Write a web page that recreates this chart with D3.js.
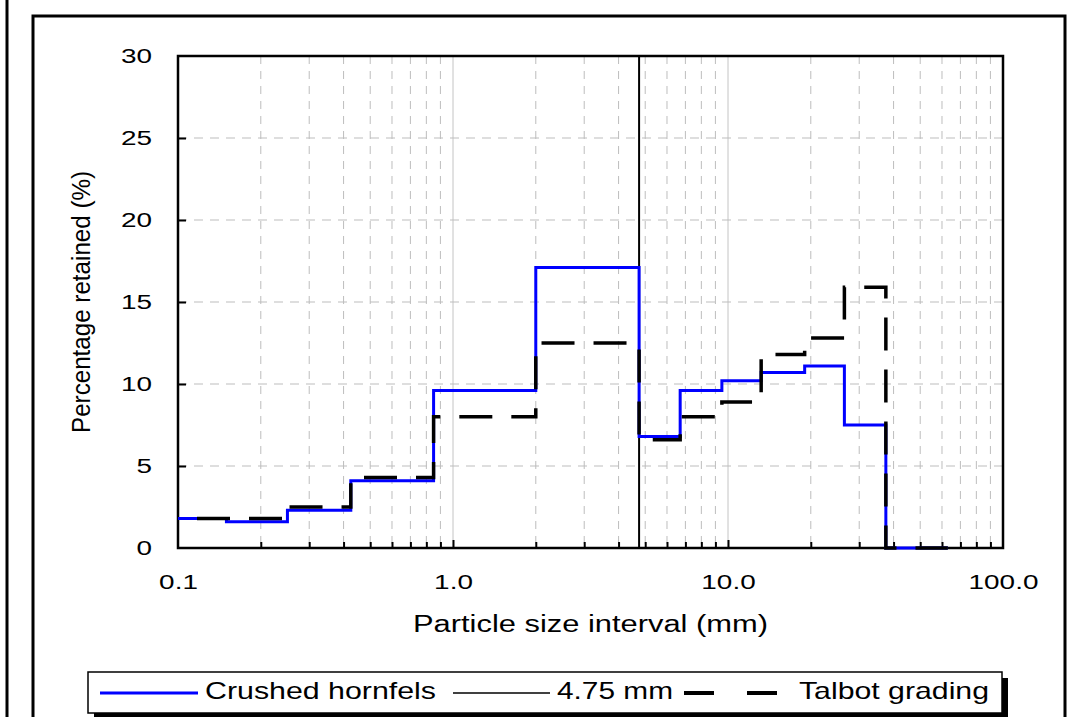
<!DOCTYPE html>
<html>
<head>
<meta charset="utf-8">
<script src="https://cdn.jsdelivr.net/npm/d3@7/dist/d3.min.js"></script>
<style>
	body { margin: 0; background: #fff; }
	text { font-family: "Liberation Sans", Arial, sans-serif; fill: #000; }
</style>
</head>
<body>
<div id="chart"></div>
<script>
// Sieve interval edges (mm) and % retained in each interval
const sizeEdges = [0.1, 0.15, 0.25, 0.425, 0.85, 2.0, 4.75, 6.7, 9.5, 13.2, 19, 26.5, 37.5, 63];
const hornfels  = [1.8, 1.6, 2.3, 4.1, 9.6, 17.1, 6.8, 9.6, 10.2, 10.7, 11.1, 7.5, 0];
const talbot    = [1.8, 1.8, 2.5, 4.3, 8.0, 12.5, 6.6, 8.0, 8.9, 11.8, 12.8, 15.9, 0];
const cutSize = 4.75;

const xDecades = [0.1, 1, 10, 100];
const xTickLabels = ["0.1", "1.0", "10.0", "100.0"];
const yTicks = [0, 5, 10, 15, 20, 25, 30];
const legendLabels = ["Crushed hornfels", "4.75 mm", "Talbot grading"];

// Dimensions
const W = 1091, H = 717;
const plot = {left: 178, right: 1003, top: 56, bottom: 548};
const labelStretch = 1.33;   // original picture is stretched sideways

const svg = d3.select("#chart").append("svg")
	.attr("width", W)
	.attr("height", H);

// Scales
const x = d3.scaleLog().domain([0.1, 100]).range([plot.left, plot.right]);
const y = d3.scaleLinear().domain([0, 30]).range([plot.bottom, plot.top]);

// minor log values 2..9 in each decade
const minorVals = [];
xDecades.slice(0, 3).forEach(d => d3.range(2, 10).forEach(k => minorVals.push(k * d)));

// Page frames
svg.append("line")
	.attr("x1", 7).attr("x2", 7).attr("y1", 0).attr("y2", H)
	.attr("stroke", "#000").attr("stroke-width", 3);
svg.append("path")
	.attr("d", "M33," + H + "V16H1065V" + H)
	.attr("fill", "none").attr("stroke", "#000").attr("stroke-width", 3);

// GRID
const grid = svg.append("g");
grid.selectAll(".vminor").data(minorVals).enter().append("line")
	.attr("x1", d => x(d)).attr("x2", d => x(d))
	.attr("y1", plot.top).attr("y2", plot.bottom)
	.attr("stroke", "#bdbdbd").attr("stroke-width", 1)
	.attr("stroke-dasharray", "8,7");
grid.selectAll(".vmajor").data([1, 10]).enter().append("line")
	.attr("x1", d => x(d)).attr("x2", d => x(d))
	.attr("y1", plot.top).attr("y2", plot.bottom)
	.attr("stroke", "#c4c4c4").attr("stroke-width", 1);
grid.selectAll(".hgrid").data(yTicks.slice(1, -1)).enter().append("line")
	.attr("x1", plot.left).attr("x2", plot.right)
	.attr("y1", d => y(d)).attr("y2", d => y(d))
	.attr("stroke", "#bdbdbd").attr("stroke-width", 1)
	.attr("stroke-dasharray", "9,7");

// TICKS (inside)
svg.append("g")
	.attr("transform", "translate(0," + plot.bottom + ")")
	.call(d3.axisBottom(x).tickValues(minorVals).tickSize(-6).tickFormat(""))
	.call(g => g.select(".domain").remove())
	.call(g => g.selectAll("line").attr("stroke-width", 2));
svg.append("g")
	.attr("transform", "translate(0," + plot.bottom + ")")
	.call(d3.axisBottom(x).tickValues([1, 10]).tickSize(-8).tickFormat(""))
	.call(g => g.select(".domain").remove())
	.call(g => g.selectAll("line").attr("stroke-width", 2));
svg.append("g")
	.attr("transform", "translate(" + plot.left + ",0)")
	.call(d3.axisLeft(y).tickValues(yTicks.slice(1, -1)).tickSize(-8).tickFormat(""))
	.call(g => g.select(".domain").remove())
	.call(g => g.selectAll("line").attr("stroke-width", 2));

// TICK LABELS
const xLab = svg.append("g")
	.attr("transform", "translate(0," + plot.bottom + ")")
	.call(d3.axisBottom(x).tickValues(xDecades).tickSize(0).tickPadding(26)
		.tickFormat((d, i) => xTickLabels[i]));
xLab.select(".domain").remove();
xLab.attr("font-size", 21).attr("font-family", null);
xLab.selectAll("text").attr("transform", "scale(" + labelStretch + ",1)");

const yLab = svg.append("g")
	.attr("transform", "translate(" + plot.left + ",0)")
	.call(d3.axisLeft(y).tickValues(yTicks).tickSize(0).tickFormat(d3.format("d")));
yLab.select(".domain").remove();
yLab.attr("font-size", 21).attr("font-family", null);
yLab.selectAll("text")
	.attr("x", -26 / labelStretch)
	.attr("transform", "scale(" + labelStretch + ",1)");

// AXIS TITLES
svg.append("text")
	.attr("x", 413)
	.attr("y", 632)
	.attr("font-size", 23)
	.attr("textLength", 355)
	.attr("lengthAdjust", "spacingAndGlyphs")
	.text("Particle size interval (mm)");
svg.append("text")
	.attr("transform", "translate(90," + (plot.top + plot.bottom) / 2 + ") scale(1.08,1) rotate(-90)")
	.style("text-anchor", "middle")
	.attr("font-size", 23.5)
	.attr("textLength", 262)
	.attr("lengthAdjust", "spacingAndGlyphs")
	.text("Percentage retained (%)");

// 4.75 mm line
svg.append("line")
	.attr("x1", x(cutSize)).attr("x2", x(cutSize))
	.attr("y1", plot.top).attr("y2", plot.bottom)
	.attr("stroke", "#000").attr("stroke-width", 2);

// Plot frame
svg.append("rect")
	.attr("x", plot.left).attr("y", plot.top)
	.attr("width", plot.right - plot.left).attr("height", plot.bottom - plot.top)
	.attr("fill", "none").attr("stroke", "#000").attr("stroke-width", 2.5);

// STEP LINES
const stepline = d3.line()
	.x(d => x(d[0]))
	.y(d => y(d[1]))
	.curve(d3.curveStepAfter);
const toSteps = vals => vals.map((v, i) => [sizeEdges[i], v])
	.concat([[sizeEdges[sizeEdges.length - 1], vals[vals.length - 1]]]);

svg.append("path")
	.datum(toSteps(hornfels))
	.attr("d", stepline)
	.attr("fill", "none")
	.attr("stroke", "#0000ff")
	.attr("stroke-width", 3);
svg.append("path")
	.datum(toSteps(talbot))
	.attr("d", stepline)
	.attr("fill", "none")
	.attr("stroke", "#000")
	.attr("stroke-width", 3.5)
	.attr("stroke-dasharray", "33,19")
	.attr("stroke-dashoffset", 33);

// LEGEND
const lg = svg.append("g");
lg.append("rect")
	.attr("x", 94).attr("y", 678).attr("width", 914).attr("height", 41)
	.attr("fill", "#000");
lg.append("rect")
	.attr("x", 88).attr("y", 672).attr("width", 914).attr("height", 41)
	.attr("fill", "#fff").attr("stroke", "#000").attr("stroke-width", 1.5);

const legendItems = [
	{label: legendLabels[0], x1: 100, x2: 198, tx: 205, tw: 231, color: "#0000ff", w: 3, dash: null},
	{label: legendLabels[1], x1: 453, x2: 550, tx: 557, tw: 116, color: "#000", w: 1.5, dash: null},
	{label: legendLabels[2], x1: 684, x2: 778, tx: 799, tw: 190, color: "#000", w: 4, dash: "30,33"}
];
legendItems.forEach(d => {
	lg.append("line")
		.attr("x1", d.x1).attr("x2", d.x2).attr("y1", 693).attr("y2", 693)
		.attr("stroke", d.color).attr("stroke-width", d.w)
		.attr("stroke-dasharray", d.dash);
	lg.append("text")
		.attr("x", d.tx).attr("y", 699)
		.attr("font-size", 24)
		.attr("textLength", d.tw)
		.attr("lengthAdjust", "spacingAndGlyphs")
		.text(d.label);
});
</script>
</body>
</html>
